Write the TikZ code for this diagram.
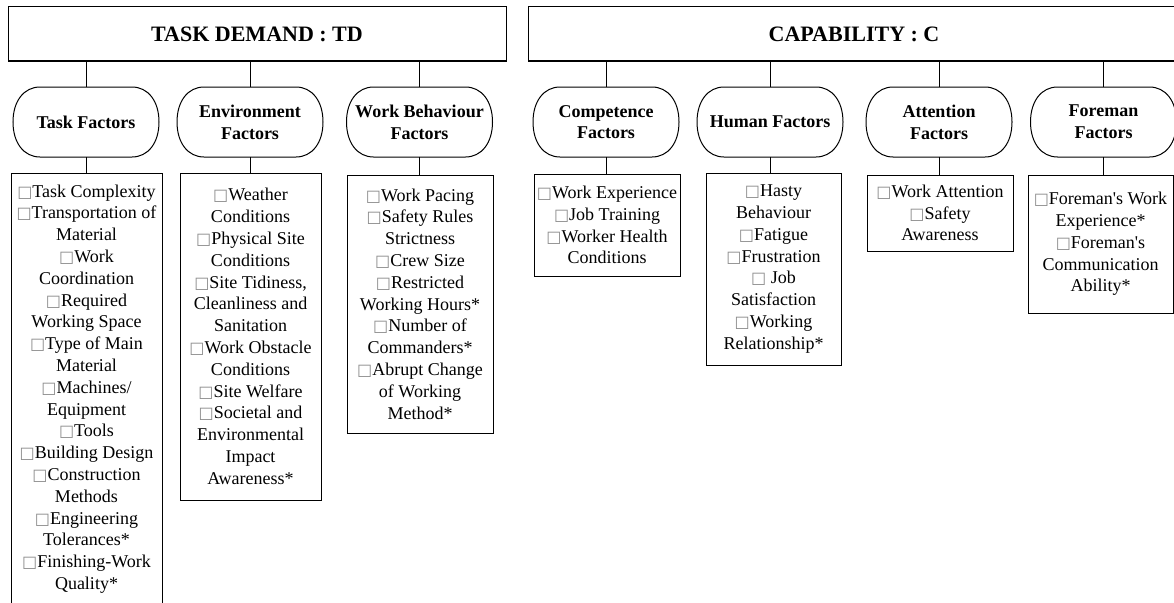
\documentclass[tikz,border=0pt]{standalone}
\usepackage{fontspec}
\setmainfont{Liberation Serif}[Ligatures=TeXOff]
\newfontfamily\symf{DejaVu Sans}
\newcommand\bx{{\symf\fontsize{16}{21.8}\selectfont\color{black!45}□}}
\newcommand\stadiumpath[1]{%
  \draw[line width=1pt, shift={(#1.center)}] (-46,-35) -- (46,-35)
    .. controls (62,-35) and (73,-21) .. (73,0)
    .. controls (73,21) and (62,35) .. (46,35) -- (-46,35)
    .. controls (-62,35) and (-73,21) .. (-73,0)
    .. controls (-73,-21) and (-62,-35) .. (-46,-35) -- cycle;}
\tikzset{
  topbox/.style={draw, line width=1pt, rectangle, inner sep=0pt,
    font=\bfseries\fontsize{22}{26}\selectfont},
  factor/.style={rectangle, minimum width=146pt, minimum height=70pt, inner sep=0pt, align=center,
    font=\bfseries\fontsize{18}{21.7}\selectfont},
  listbox/.style={draw, line width=1pt, rectangle, inner sep=0pt, align=center,
    font=\fontsize{18}{21.8}\selectfont},
  conn/.style={draw, line width=0.9pt}
}
\begin{document}
\begin{tikzpicture}[x=1pt,y=-1pt]
\clip (0,0) rectangle (1174,602);
\fill[white] (0,0) rectangle (1174,602);
% top boxes
\node[topbox, minimum width=498pt, minimum height=54pt] (TD) at (257,34) {TASK DEMAND : TD};
\node[topbox, minimum width=652pt, minimum height=54pt] (C) at (854,34) {CAPABILITY : C};
% factors
\node[factor] (fT) at (86,122) {Task Factors};
\node[factor] (fE) at (250,122) {Environment\\Factors};
\node[factor] (fW) at (419.5,122) {Work Behaviour\\Factors};
\node[factor] (fC) at (606,122) {Competence\\Factors};
\node[factor] (fH) at (770,122) {Human Factors};
\node[factor] (fA) at (939,122) {Attention\\Factors};
\node[factor] (fF) at (1103.5,122) {Foreman\\Factors};
\foreach \f in {fT,fE,fW,fC,fH,fA,fF}{\stadiumpath{\f}}
% lists
\node[listbox, minimum width=151pt, minimum height=432pt] (lT) at (86.5,389) {\bx Task Complexity\\\bx Transportation of\\Material\\\bx Work\\Coordination\\\bx Required\\Working Space\\\bx Type of Main\\Material\\\bx Machines/\\Equipment\\\bx Tools\\\bx Building Design\\\bx Construction\\Methods\\\bx Engineering\\Tolerances*\\\bx Finishing-Work\\Quality*};
\node[listbox, minimum width=141pt, minimum height=327pt] (lE) at (250.5,336.5) {\bx Weather\\Conditions\\\bx Physical Site\\Conditions\\\bx Site Tidiness,\\Cleanliness and\\Sanitation\\\bx Work Obstacle\\Conditions\\\bx Site Welfare\\\bx Societal and\\Environmental\\Impact\\Awareness*};
\node[listbox, minimum width=146pt, minimum height=258pt] (lW) at (420,304) {\bx Work Pacing\\\bx Safety Rules\\Strictness\\\bx Crew Size\\\bx Restricted\\Working Hours*\\\bx Number of\\Commanders*\\\bx Abrupt Change\\of Working\\Method*};
\node[listbox, minimum width=146pt, minimum height=102pt] (lC) at (607,225) {\bx Work Experience\\\bx Job Training\\\bx Worker Health\\Conditions};
\node[listbox, minimum width=135pt, minimum height=192pt] (lH) at (773.5,269) {\bx Hasty\\Behaviour\\\bx Fatigue\\\bx Frustration\\\bx\ Job\\Satisfaction\\\bx Working\\Relationship*};
\node[listbox, minimum width=146pt, minimum height=76pt] (lA) at (940,213) {\bx Work Attention\\\bx Safety\\Awareness};
\node[listbox, minimum width=145pt, minimum height=138pt] (lF) at (1100.5,244) {\bx Foreman's Work\\Experience*\\\bx Foreman's\\Communication\\Ability*};
% connectors
\foreach \f/\l in {fT/lT,fE/lE,fW/lW}{
  \draw[conn] (TD.south -| \f.north) -- (\f.north);
  \draw[conn] (\f.south) -- (\f.south |- \l.north);
}
\foreach \f/\l in {fC/lC,fH/lH,fA/lA,fF/lF}{
  \draw[conn] (C.south -| \f.north) -- (\f.north);
  \draw[conn] (\f.south) -- (\f.south |- \l.north);
}
\end{tikzpicture}
\end{document}
